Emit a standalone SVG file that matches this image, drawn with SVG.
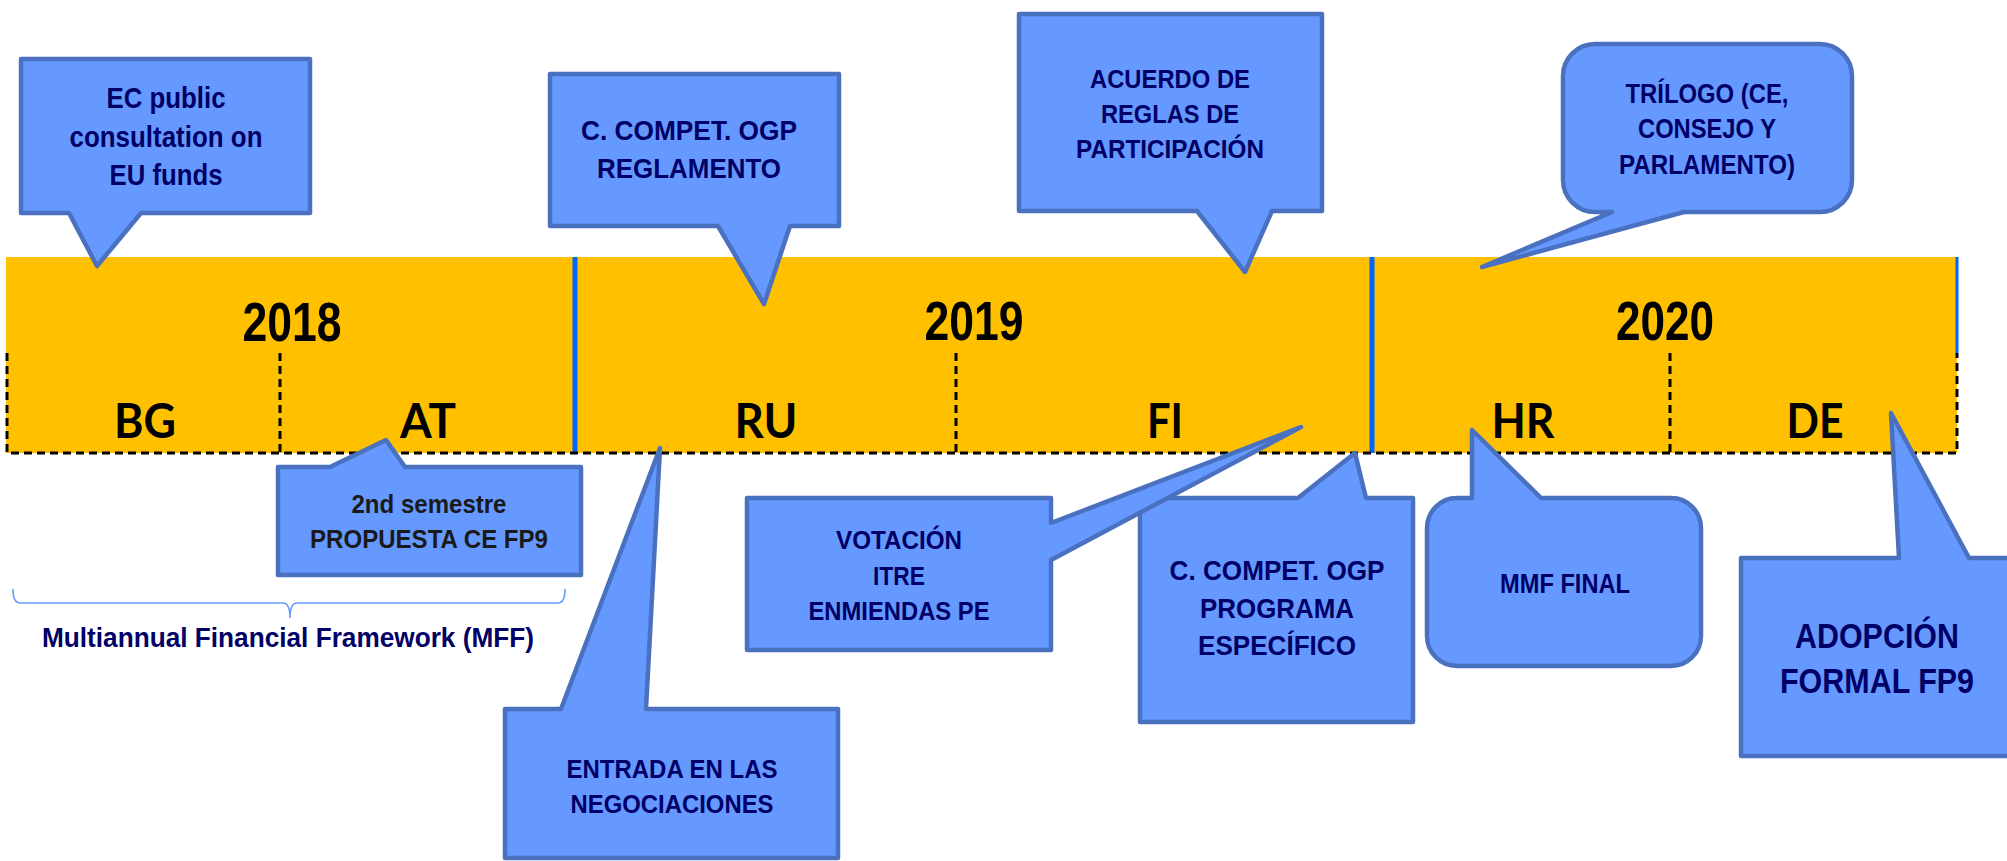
<svg xmlns="http://www.w3.org/2000/svg" width="2007" height="861" viewBox="0 0 2007 861">
<style>
.co{fill:#6699FF;stroke:#4A70C0;stroke-width:4.5;stroke-linejoin:round}
.t{font-family:"Liberation Sans",Arial,sans-serif;font-weight:bold;fill:#000066;text-anchor:middle}
.yr{font-family:"Liberation Sans",Arial,sans-serif;font-weight:bold;fill:#000;text-anchor:middle;font-size:56px}
.cc{font-family:Lato,"Open Sans",sans-serif;font-weight:bold;fill:#000;text-anchor:middle;font-size:48px}
.dash{stroke:#000;stroke-width:3;stroke-dasharray:8 5;fill:none}
.blue{stroke:#0066FF;stroke-width:5}
</style>
<rect width="2007" height="861" fill="#fff"/>
<g id="timeline">
<rect x="6" y="257" width="1951" height="196" fill="#FFC000"/>
<line class="blue" x1="575" y1="257" x2="575" y2="453"/>
<line class="blue" x1="1372" y1="257" x2="1372" y2="453"/>
<line stroke="#0066FF" stroke-width="3" x1="1957" y1="257" x2="1957" y2="353"/>
<path class="dash" d="M7,353 V453 H1957 V353 M280,353 V453 M956,353 V453 M1670,353 V453"/>
<text class="yr" x="292" y="341" textLength="99" lengthAdjust="spacingAndGlyphs">2018</text>
<text class="yr" x="974" y="340" textLength="99" lengthAdjust="spacingAndGlyphs">2019</text>
<text class="yr" x="1665" y="340" textLength="98" lengthAdjust="spacingAndGlyphs">2020</text>
<text class="cc" x="145" y="438" textLength="62" lengthAdjust="spacingAndGlyphs">BG</text>
<text class="cc" x="428" y="438" textLength="56" lengthAdjust="spacingAndGlyphs">AT</text>
<text class="cc" x="766" y="438" textLength="63" lengthAdjust="spacingAndGlyphs">RU</text>
<text class="cc" x="1165" y="438" textLength="36" lengthAdjust="spacingAndGlyphs">FI</text>
<text class="cc" x="1523" y="438" textLength="63" lengthAdjust="spacingAndGlyphs">HR</text>
<text class="cc" x="1815" y="438" textLength="57" lengthAdjust="spacingAndGlyphs">DE</text>
</g>
<g id="mff">
<path d="M13,589 Q13,603 20,603 H283 Q290,603 290,618 Q290,603 297,603 H558 Q565,603 565,589" fill="none" stroke="#6699FF" stroke-width="1.6"/>
<text class="t" x="288" y="647" font-size="28" textLength="492" lengthAdjust="spacingAndGlyphs">Multiannual Financial Framework (MFF)</text>
</g>
<g id="ec-consultation">
<path class="co" d="M21,59 H310 V213 H141 L97,266 L69,213 H21 Z"/>
<text class="t" font-size="30"><tspan x="166" y="108" textLength="119" lengthAdjust="spacingAndGlyphs">EC public</tspan></text>
<text class="t" font-size="30"><tspan x="166" y="147" textLength="193" lengthAdjust="spacingAndGlyphs">consultation on</tspan></text>
<text class="t" font-size="30"><tspan x="166" y="185" textLength="113" lengthAdjust="spacingAndGlyphs">EU funds</tspan></text>
</g>
<g id="reglamento">
<path class="co" d="M550,74 H839 V226 H790 L764,304 L718,226 H550 Z"/>
<text class="t" font-size="28" x="689" y="140" textLength="216" lengthAdjust="spacingAndGlyphs">C. COMPET. OGP</text>
<text class="t" font-size="28" x="689" y="178" textLength="184" lengthAdjust="spacingAndGlyphs">REGLAMENTO</text>
</g>
<g id="acuerdo">
<path class="co" d="M1019,14 H1322 V211 H1272 L1245,272 L1197,211 H1019 Z"/>
<text class="t" font-size="26" x="1170" y="88" textLength="160" lengthAdjust="spacingAndGlyphs">ACUERDO DE</text>
<text class="t" font-size="26" x="1170" y="123" textLength="138" lengthAdjust="spacingAndGlyphs">REGLAS DE</text>
<text class="t" font-size="26" x="1170" y="158" textLength="188" lengthAdjust="spacingAndGlyphs">PARTICIPACIÓN</text>
</g>
<g id="trilogo">
<path class="co" d="M1595,44 H1820 A32,32 0 0 1 1852,76 V180 A32,32 0 0 1 1820,212 H1684 L1482,267 L1612,212 H1595 A32,32 0 0 1 1563,180 V76 A32,32 0 0 1 1595,44 Z"/>
<text class="t" font-size="27" x="1707" y="103" textLength="163" lengthAdjust="spacingAndGlyphs">TRÍLOGO (CE,</text>
<text class="t" font-size="27" x="1707" y="138" textLength="138" lengthAdjust="spacingAndGlyphs">CONSEJO Y</text>
<text class="t" font-size="27" x="1707" y="174" textLength="176" lengthAdjust="spacingAndGlyphs">PARLAMENTO)</text>
</g>
<g id="propuesta">
<path class="co" d="M278,467 H330 L386,440 L405,467 H581 V575 H278 Z"/>
<text class="t" font-size="26" style="fill:#1a1a1a" x="429" y="513" textLength="155" lengthAdjust="spacingAndGlyphs">2nd semestre</text>
<text class="t" font-size="26" style="fill:#1a1a1a" x="429" y="548" textLength="238" lengthAdjust="spacingAndGlyphs">PROPUESTA CE FP9</text>
</g>
<g id="entrada">
<path class="co" d="M505,709 H561 L660,448 L646,709 H838 V858 H505 Z"/>
<text class="t" font-size="26" x="672" y="778" textLength="211" lengthAdjust="spacingAndGlyphs">ENTRADA EN LAS</text>
<text class="t" font-size="26" x="672" y="813" textLength="203" lengthAdjust="spacingAndGlyphs">NEGOCIACIONES</text>
</g>
<g id="programa">
<path class="co" d="M1140,498 H1298 L1355,453 L1366,498 H1413 V722 H1140 Z"/>
<text class="t" font-size="28" x="1277" y="580" textLength="215" lengthAdjust="spacingAndGlyphs">C. COMPET. OGP</text>
<text class="t" font-size="28" x="1277" y="618" textLength="154" lengthAdjust="spacingAndGlyphs">PROGRAMA</text>
<text class="t" font-size="28" x="1277" y="655" textLength="158" lengthAdjust="spacingAndGlyphs">ESPECÍFICO</text>
</g>
<g id="votacion">
<path class="co" d="M747,498 H1051 V523 L1301,427 L1051,560 V650 H747 Z"/>
<text class="t" font-size="26" x="899" y="549" textLength="126" lengthAdjust="spacingAndGlyphs">VOTACIÓN</text>
<text class="t" font-size="26" x="899" y="585" textLength="52" lengthAdjust="spacingAndGlyphs">ITRE</text>
<text class="t" font-size="26" x="899" y="620" textLength="181" lengthAdjust="spacingAndGlyphs">ENMIENDAS PE</text>
</g>
<g id="mmf-final">
<path class="co" d="M1457,498 H1472 L1472,430 L1541,498 H1671 A30,30 0 0 1 1701,528 V636 A30,30 0 0 1 1671,666 H1457 A30,30 0 0 1 1427,636 V528 A30,30 0 0 1 1457,498 Z"/>
<text class="t" font-size="27" x="1565" y="593" textLength="130" lengthAdjust="spacingAndGlyphs">MMF FINAL</text>
</g>
<g id="adopcion">
<path class="co" d="M1741,558 H1899 L1891,413 L1969,558 H2015 V756 H1741 Z"/>
<text class="t" font-size="35" x="1877" y="648" textLength="164" lengthAdjust="spacingAndGlyphs">ADOPCIÓN</text>
<text class="t" font-size="35" x="1877" y="693" textLength="194" lengthAdjust="spacingAndGlyphs">FORMAL FP9</text>
</g>
</svg>
